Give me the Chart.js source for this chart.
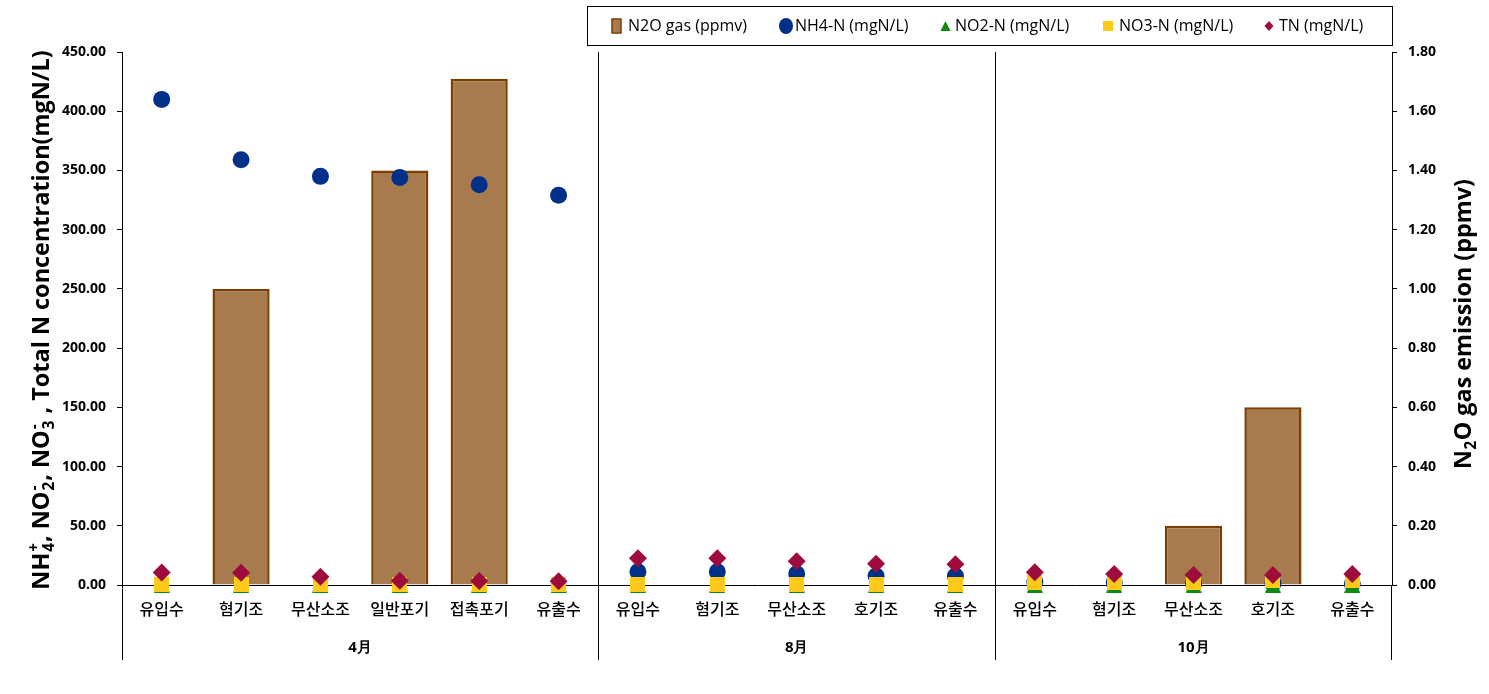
<!DOCTYPE html>
<html>
<head>
<meta charset="utf-8">
<script src="https://cdn.jsdelivr.net/npm/chart.js@4"></script>
<style>
  html, body { margin: 0; padding: 0; background: #ffffff; }
  #wrap { width: 1489px; height: 694px; position: relative; }
</style>
</head>
<body>
<div id="wrap"><canvas id="c" width="1489" height="694"></canvas></div>
<script>
// ---- data ----
const categories = ['유입수','혐기조','무산소조','일반포기','접촉포기','유출수',
                    '유입수','혐기조','무산소조','호기조','유출수',
                    '유입수','혐기조','무산소조','호기조','유출수'];
const groupLabels = ['4月','8月','10月'];
const groupSizes = [6, 5, 5];
const n2oGas = [null, 1.00, null, 1.40, 1.71, null,
                null, null, null, null, null,
                null, null, 0.20, 0.60, null];
const nh4 = [410, 359, 345, 344, 338, 329,
             11.2, 11.2, 9.5, 7.5, 7.5,
             3, 2, 1.5, 1.5, 1];
const no2 = [0, 0, 0, 0, 0, 0,
             0, 0, 0, 0, 0,
             0, 0, 0, 0, 0];
const no3 = [0.5, 0.5, 0.5, 0.3, 0.3, 0.3,
             0.3, 0.3, 0.3, 0.3, 0.3,
             2.5, 2.5, 2, 3.5, 3.5];
const tn = [10.5, 10.4, 7.0, 3.6, 3.4, 3.1,
            22.5, 22.5, 20.0, 18.0, 17.5,
            10.7, 9.3, 8.4, 8.4, 9.3];
const leftTicks = { min: 0, max: 450, step: 50 };
const rightTicks = { min: 0, max: 1.8, step: 0.2 };
const seriesNames = ['N2O gas (ppmv)', 'NH4-N (mgN/L)', 'NO2-N (mgN/L)', 'NO3-N (mgN/L)', 'TN (mgN/L)'];

// ---- styles ----
const C_BAR = '#A87B4F', C_BAR_B = '#7B3F00';
const C_NH4 = '#00308A', C_NO2 = '#0E8A12', C_NO3 = '#FFC91A', C_TN = '#9E0C3E';
const NUMFONT = '"Open Sans", "Liberation Sans", sans-serif';
const KRFONT = '"Noto Sans CJK KR", "Noto Sans", sans-serif';

function makeTriangle(w, h, color) {
  const cv = document.createElement('canvas');
  cv.width = w; cv.height = h;
  const g = cv.getContext('2d');
  g.fillStyle = color;
  g.beginPath(); g.moveTo(w / 2, 0); g.lineTo(w, h); g.lineTo(0, h); g.closePath(); g.fill();
  return cv;
}
function makeSquare(s, color) {
  const cv = document.createElement('canvas');
  cv.width = s; cv.height = s;
  const g = cv.getContext('2d');
  g.fillStyle = color; g.fillRect(0, 0, s, s);
  return cv;
}
const triImg = makeTriangle(16, 15, C_NO2);
const sqImg = makeSquare(15, C_NO3);

// rich text helper
function richWidth(ctx, segs, size, family) {
  let w = 0;
  for (const s of segs) {
    if (s.m === 'n') { ctx.font = `bold ${size}px ${family}`; w += ctx.measureText(s.t).width; }
    else if (s.m === 'ss') { ctx.font = `bold ${size * 0.65}px ${family}`; w += Math.max(ctx.measureText(s.t[0]).width, ctx.measureText(s.t[1]).width) + 2; }
    else { ctx.font = `bold ${size * 0.65}px ${family}`; w += ctx.measureText(s.t).width + 1; }
  }
  return w;
}
function drawRich(ctx, segs, cx, cy, targetLen, baseSize, family, rot) {
  let size = baseSize;
  const w0 = richWidth(ctx, segs, size, family);
  size = size * targetLen / w0;
  const w = richWidth(ctx, segs, size, family);
  ctx.save();
  ctx.translate(cx, cy);
  ctx.rotate(rot);
  ctx.fillStyle = '#000';
  ctx.textBaseline = 'alphabetic';
  ctx.textAlign = 'left';
  let x = -w / 2;
  const base = size * 0.36;
  for (const s of segs) {
    if (s.m === 'n') {
      ctx.font = `bold ${size}px ${family}`;
      ctx.fillText(s.t, x, base); x += ctx.measureText(s.t).width;
    } else if (s.m === 'sub') {
      ctx.font = `bold ${size * 0.65}px ${family}`;
      ctx.fillText(s.t, x + 0.5, base + size * 0.2); x += ctx.measureText(s.t).width + 1;
    } else if (s.m === 'sup') {
      ctx.font = `bold ${size * 0.65}px ${family}`;
      ctx.fillText(s.t, x + 0.5, base - size * 0.42); x += ctx.measureText(s.t).width + 1;
    } else {
      ctx.font = `bold ${size * 0.65}px ${family}`;
      ctx.fillText(s.t[0], x + 1, base + size * 0.2);
      ctx.fillText(s.t[1], x + 1, base - size * 0.45);
      x += Math.max(ctx.measureText(s.t[0]).width, ctx.measureText(s.t[1]).width) + 2;
    }
  }
  ctx.restore();
}

const leftTitle = [
  {t: 'NH', m: 'n'}, {t: ['4', '+'], m: 'ss'}, {t: ', NO', m: 'n'}, {t: ['2', '-'], m: 'ss'},
  {t: ', NO', m: 'n'}, {t: ['3', '-'], m: 'ss'}, {t: ' , Total N concentration(mgN/L)', m: 'n'}
];
const rightTitle = [{t: 'N', m: 'n'}, {t: '2', m: 'sub'}, {t: 'O gas emission (ppmv)', m: 'n'}];

const decorPlugin = {
  id: 'decor',
  afterDraw(chart) {
    const ctx = chart.ctx;
    const ca = chart.chartArea;
    const xs = chart.scales.x;
    const bottomY = 660;
    ctx.save();
    ctx.strokeStyle = '#000';
    ctx.lineWidth = 1;
    const vlines = [[Math.round(ca.left) + 0.5, ca.bottom], [Math.round(ca.right) - 0.5, ca.bottom]];
    let idx = 0;
    const groupBounds = [ca.left];
    for (let g = 0; g < groupSizes.length - 1; g++) {
      idx += groupSizes[g];
      const xm = (xs.getPixelForValue(idx - 1) + xs.getPixelForValue(idx)) / 2;
      groupBounds.push(xm);
      vlines.push([Math.round(xm) + 0.5, ca.top]);
    }
    groupBounds.push(ca.right);
    for (const [x, y0] of vlines) {
      ctx.beginPath(); ctx.moveTo(x, y0); ctx.lineTo(x, bottomY); ctx.stroke();
    }
    // group labels
    ctx.fillStyle = '#000';
    ctx.textAlign = 'center';
    ctx.textBaseline = 'middle';
    for (let g = 0; g < groupLabels.length; g++) {
      ctx.font = `bold 15px ${NUMFONT}`;
      const cx = (groupBounds[g] + groupBounds[g + 1]) / 2;
      ctx.fillText(groupLabels[g], cx, 648);
    }
    // axis titles
    drawRich(ctx, leftTitle, 41, 320, 540, 22, NUMFONT, -Math.PI / 2);
    drawRich(ctx, rightTitle, 1463, 324, 290, 22, NUMFONT, -Math.PI / 2);

    // legend
    ctx.strokeStyle = '#000';
    ctx.lineWidth = 1;
    ctx.strokeRect(587.5, 6.5, 805, 39);
    const ly = 26;
    ctx.font = `16px ${NUMFONT}`;
    ctx.textAlign = 'left';
    ctx.textBaseline = 'middle';
    // N2O
    ctx.fillStyle = C_BAR; ctx.fillRect(612, ly - 7, 9, 14);
    ctx.strokeStyle = C_BAR_B; ctx.lineWidth = 1.5; ctx.strokeRect(612, ly - 7, 9, 14);
    ctx.fillStyle = '#000'; ctx.fillText(seriesNames[0], 628, ly);
    // NH4
    ctx.fillStyle = C_NH4; ctx.beginPath(); ctx.ellipse(786, ly, 7, 8, 0, 0, Math.PI * 2); ctx.fill();
    ctx.fillStyle = '#000'; ctx.fillText(seriesNames[1], 795, ly);
    // NO2
    ctx.fillStyle = C_NO2; ctx.beginPath(); ctx.moveTo(945.5, ly - 5); ctx.lineTo(950.5, ly + 5); ctx.lineTo(940.5, ly + 5); ctx.closePath(); ctx.fill();
    ctx.fillStyle = '#000'; ctx.fillText(seriesNames[2], 955, ly);
    // NO3
    ctx.fillStyle = C_NO3; ctx.fillRect(1103, ly - 5, 10, 10);
    ctx.fillStyle = '#000'; ctx.fillText(seriesNames[3], 1119, ly);
    // TN
    ctx.fillStyle = C_TN; ctx.beginPath(); ctx.moveTo(1269, ly - 5); ctx.lineTo(1273.5, ly); ctx.lineTo(1269, ly + 5); ctx.lineTo(1264.5, ly); ctx.closePath(); ctx.fill();
    ctx.fillStyle = '#000'; ctx.fillText(seriesNames[4], 1279, ly);
    ctx.restore();
  }
};

const pointDs = (label, data, style, color, radius, order) => ({
  type: 'line', label, data, yAxisID: 'y', order,
  showLine: false, clip: false,
  pointStyle: style, pointRadius: radius, pointHoverRadius: radius,
  backgroundColor: color, borderColor: color, pointBorderWidth: 0,
});

new Chart(document.getElementById('c'), {
  data: {
    labels: categories,
    datasets: [
      { type: 'bar', label: seriesNames[0], data: n2oGas, yAxisID: 'y1', order: 5,
        backgroundColor: C_BAR, borderColor: C_BAR_B, borderWidth: 2.5,
        barPercentage: 0.72, categoryPercentage: 1.0 },
      pointDs(seriesNames[1], nh4, 'circle', C_NH4, 8.5, 4),
      pointDs(seriesNames[2], no2, triImg, C_NO2, 8, 3),
      pointDs(seriesNames[3], no3, sqImg, C_NO3, 8, 2),
      pointDs(seriesNames[4], tn, 'rectRot', C_TN, 9, 1),
    ]
  },
  options: {
    responsive: false,
    animation: false,
    events: [],
    layout: { padding: { top: 52, left: 0, right: 0, bottom: 0 } },
    plugins: { legend: { display: false }, tooltip: { enabled: false } },
    scales: {
      x: {
        type: 'category', offset: true,
        grid: { display: true, drawOnChartArea: false, drawTicks: false },
        border: { display: true, color: '#000', width: 1 },
        ticks: { color: '#000', font: { family: KRFONT, size: 16, weight: '500' }, padding: 14,
                 maxRotation: 0, minRotation: 0, autoSkip: false },
        afterFit: (s) => { s.height = 109; }
      },
      y: {
        position: 'left', min: leftTicks.min, max: leftTicks.max,
        grid: { display: true, drawOnChartArea: false, drawTicks: true, tickLength: 5, color: '#000' },
        border: { display: true, color: '#000', width: 1 },
        ticks: { stepSize: leftTicks.step, color: '#000', padding: 11,
                 font: { family: NUMFONT, size: 14, weight: 'bold' },
                 callback: (v) => Number(v).toFixed(2) },
        afterFit: (s) => { s.width = 122; }
      },
      y1: {
        position: 'right', min: rightTicks.min, max: rightTicks.max,
        grid: { display: true, drawOnChartArea: false, drawTicks: true, tickLength: 5, color: '#000' },
        border: { display: true, color: '#000', width: 1 },
        ticks: { stepSize: rightTicks.step, color: '#000', padding: 11,
                 font: { family: NUMFONT, size: 14, weight: 'bold' },
                 callback: (v) => Number(v).toFixed(2) },
        afterFit: (s) => { s.width = 97; }
      }
    }
  },
  plugins: [decorPlugin]
});
</script>
</body>
</html>
